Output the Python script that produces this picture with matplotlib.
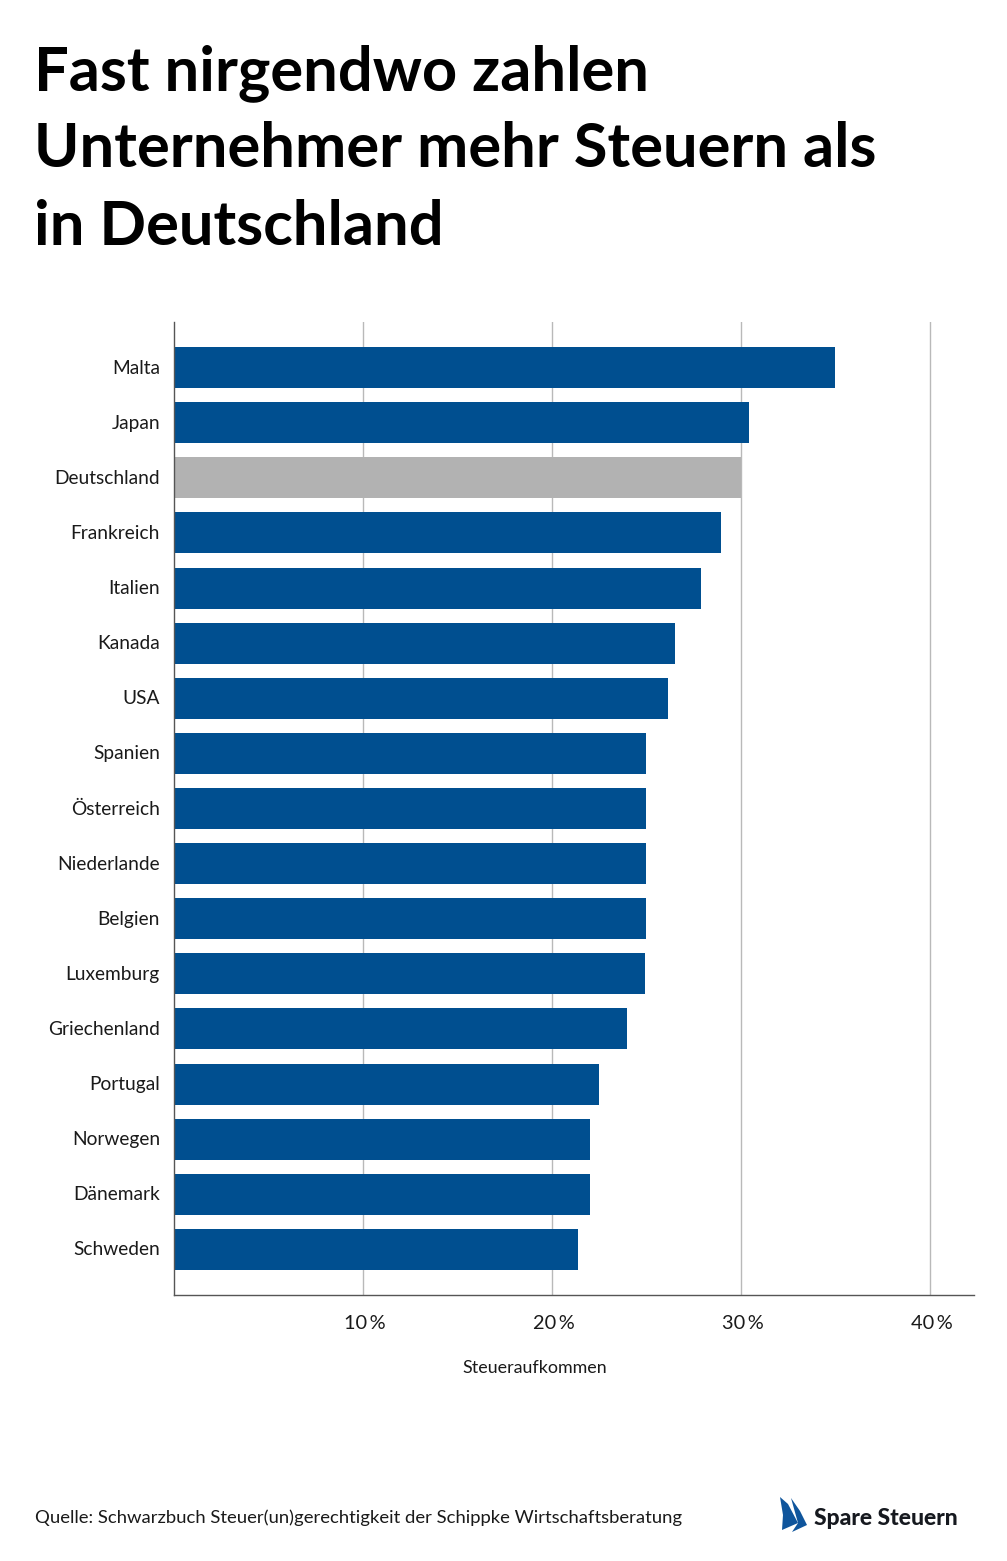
import matplotlib
matplotlib.use("Agg")
import matplotlib.pyplot as plt
from matplotlib.patches import Polygon
from matplotlib.transforms import ScaledTranslation

countries = ["Malta", "Japan", "Deutschland", "Frankreich", "Italien", "Kanada", "USA",
             "Spanien", "Österreich", "Niederlande", "Belgien", "Luxemburg",
             "Griechenland", "Portugal", "Norwegen", "Dänemark", "Schweden"]
values = [35, 30.45, 30, 28.95, 27.9, 26.5, 26.15, 25, 25, 25, 25, 24.95, 24, 22.5, 22, 22, 21.4]
ticks = [10, 20, 30, 40]
tick_labels = ["10\u2009%", "20\u2009%", "30\u2009%", "40\u2009%"]
title_lines = ["Fast nirgendwo zahlen", "Unternehmer mehr Steuern als", "in Deutschland"]

BLUE = "#004f90"
GREY = "#b2b2b2"
TEXT = "#1a1a1a"
W, H = 1007, 1561

plt.rcParams["font.family"] = ["Lato", "DejaVu Sans"]

fig = plt.figure(figsize=(W / 100, H / 100), dpi=100)
ax = fig.add_axes([173.8 / W, 1 - 1295 / H, (974 - 173.8) / W, (1295 - 322) / H])

colors = [GREY if c == "Deutschland" else BLUE for c in countries]
ax.barh(countries, values, height=0.744, color=colors, zorder=2)
ax.set_ylim(len(countries) - 1 + 0.826, -0.826)
ax.set_xlim(0, 42.33)

ax.set_xticks(ticks)
ax.set_xticklabels(tick_labels, fontsize=14.4, color=TEXT)
ax.tick_params(axis="x", length=0, pad=14.5)
ax.tick_params(axis="y", length=0, pad=10, labelsize=13.8, labelcolor=TEXT)
ax.grid(axis="x", color="#b9b9b9", linewidth=1.0, zorder=1)
ax.set_axisbelow(True)

# nudge tick labels by a pixel or two
for lab in ax.get_xticklabels():
    lab.set_transform(lab.get_transform() + ScaledTranslation(2 / 100, 0, fig.dpi_scale_trans))
for lab in ax.get_yticklabels():
    lab.set_transform(lab.get_transform() + ScaledTranslation(0, 1 / 100, fig.dpi_scale_trans))

for side in ["top", "right"]:
    ax.spines[side].set_visible(False)
for side in ["left", "bottom"]:
    ax.spines[side].set_color("#555555")
    ax.spines[side].set_linewidth(1.0)
    ax.spines[side].set_zorder(3)

def px_text(x, y, s, **kw):
    fig.text(x / W, 1 - y / H, s, va="baseline", **kw)

for line, base in zip(title_lines, [90, 167, 245]):
    px_text(34, base, line, fontsize=44.2, fontweight="bold", color="black")

px_text(535, 1373, "Steueraufkommen", fontsize=12.9, ha="center", color=TEXT)
px_text(35, 1523, "Quelle: Schwarzbuch Steuer(un)gerechtigkeit der Schippke Wirtschaftsberatung",
        fontsize=13.3, color=TEXT)
px_text(814, 1525, "Spare Steuern", fontsize=16.5, fontweight="black", color="#16191f")

# logo sails
sail_a = [(780, 1497), (788, 1504), (798, 1523), (782, 1530), (783, 1515)]
sail_b = [(791, 1498), (800, 1511), (807, 1525), (792, 1532), (798, 1523)]
for pts in (sail_a, sail_b):
    fig.add_artist(Polygon([(x / W, 1 - y / H) for x, y in pts], closed=True,
                           transform=fig.transFigure, facecolor="#0f559c", edgecolor="none"))

fig.savefig("out.png", dpi=100)
